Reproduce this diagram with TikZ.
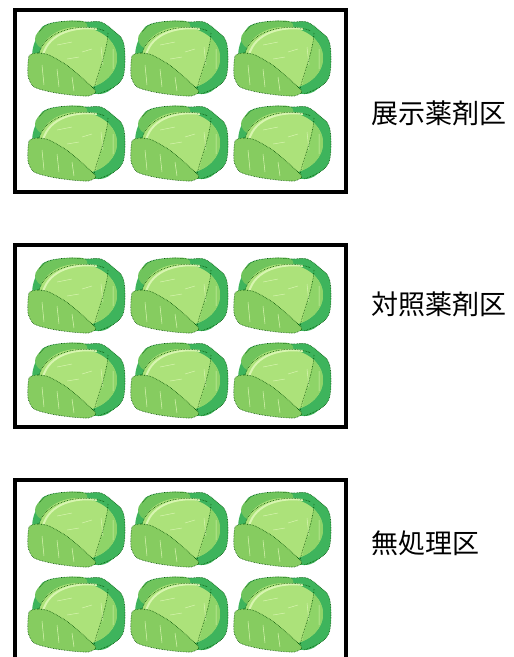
\documentclass[tikz,border=0pt]{standalone}
\usepackage{fontspec}
\newfontfamily\jpfont{Noto Sans CJK JP}
\definecolor{cabdark}{RGB}{62,180,92}
\definecolor{cabback}{RGB}{112,196,92}
\definecolor{cabhead}{RGB}{172,226,122}
\definecolor{cabmid}{RGB}{142,212,104}
\definecolor{cableaf}{RGB}{134,204,96}
\definecolor{cablight}{RGB}{216,245,176}
\tikzset{
  plotbox/.style={draw=black, line width=4pt, minimum width=331pt, minimum height=182pt, inner sep=0pt},
  plotname/.style={font=\jpfont\fontsize{27}{27}\selectfont, anchor=west, inner sep=0pt},
  leafline/.style={draw=black!70!green, densely dotted, line width=0.6pt},
  cabbage/.pic={
    \fill[cabdark] plot[smooth cycle, tension=0.6] coordinates {(-38,25) (-29,33) (-9,36) (9,35) (24,35) (37,26) (46,16) (48,-2) (46,-20) (37,-30) (21,-37) (-20,-30) (-44,-2)};
    \fill[cabback] plot[smooth cycle, tension=0.6] coordinates {(-42,18) (-32,31) (-10,36) (8,35) (6,24) (-30,8)};
    \fill[cabhead] (1,-1) ellipse (39 and 31);
    \begin{scope}
      \clip (1,-1) ellipse (39 and 31);
      \fill[cabmid] (31,40) -- (31,24) .. controls (30,5) and (21,-15) .. (17,-40) -- (50,-40) -- (50,40) -- cycle;
    \end{scope}
    \draw[cablight, line width=2pt] (-34,2) .. controls (-28,25) and (0,31) .. (20,28);
    \draw[cablight, line width=0.5pt] (-20,12) -- (-5,15) (5,5) -- (15,8) (-10,-2) -- (2,0) (24,10) -- (26,-8) (36,8) -- (36,-12);
    \draw[leafline] (31,24) .. controls (30,5) and (21,-15) .. (17,-32);
    \draw[leafline] (-38,4) .. controls (-30,30) and (10,34) .. (28,26);
    \filldraw[cableaf, leafline] plot[smooth cycle, tension=0.4] coordinates {(-48,1) (-39,4) (-28,2) (-9,-9) (14,-29) (19,-35) (11,-39) (-6,-38) (-26,-35) (-43,-30) (-49,-19)};
    \draw[cablight, line width=0.5pt] (-35,-8) -- (-33,-28) (-20,-12) -- (-18,-30) (-5,-20) -- (-3,-34);
    \draw[leafline] plot[smooth, tension=0.6] coordinates {(-38,25) (-29,33) (-9,36) (9,35) (24,35) (37,26) (46,16) (48,-2) (46,-20) (37,-30) (21,-37)};
  }
}
\begin{document}
\begin{tikzpicture}[x=1pt,y=1pt]
    \useasboundingbox (0,0) rectangle (514,-657);
    % plots
    \node[plotbox](p1) at (180.5,-101) {};
    \node[plotbox](p2) at (180.5,-336) {};
    \node[plotbox](p3) at (180.5,-571) {};
    % cabbages
    \pic at (77,-57) {cabbage};
    \pic at (180,-57) {cabbage};
    \pic at (283,-57) {cabbage};
    \pic at (77,-142) {cabbage};
    \pic at (180,-142) {cabbage};
    \pic at (283,-142) {cabbage};
    \pic at (77,-294) {cabbage};
    \pic at (180,-294) {cabbage};
    \pic at (283,-294) {cabbage};
    \pic at (77,-379) {cabbage};
    \pic at (180,-379) {cabbage};
    \pic at (283,-379) {cabbage};
    \pic at (77,-528) {cabbage};
    \pic at (180,-528) {cabbage};
    \pic at (283,-528) {cabbage};
    \pic at (77,-613) {cabbage};
    \pic at (180,-613) {cabbage};
    \pic at (283,-613) {cabbage};
    % labels
    \node[plotname](a) at (371,-113) {展示薬剤区};
    \node[plotname](b) at (371,-304) {対照薬剤区};
    \node[plotname](c) at (371,-543) {無処理区};
\end{tikzpicture}
\end{document}
